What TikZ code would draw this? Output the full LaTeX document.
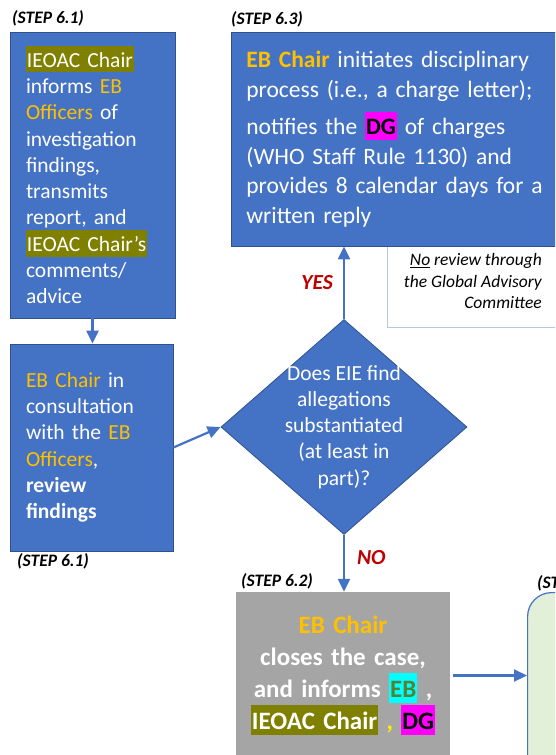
\documentclass[tikz,border=0pt]{standalone}
\usepackage{fontspec}
\setmainfont{Carlito}
\usetikzlibrary{arrows.meta,shapes.geometric,positioning}

\definecolor{flowblue}{HTML}{4472C4}
\definecolor{flowedge}{HTML}{2F528F}
\definecolor{gold}{HTML}{FFC000}
\definecolor{hlolive}{HTML}{808000}
\definecolor{hlpink}{HTML}{FF00FF}
\definecolor{hlcyan}{HTML}{00FFFF}
\definecolor{ebgreen}{HTML}{548235}
\definecolor{closegray}{HTML}{A5A5A5}
\definecolor{nextgreen}{HTML}{E2F0D9}
\definecolor{notebord}{HTML}{B4C7E7}
\definecolor{answerred}{HTML}{C00000}

% highlighted run of text
\newcommand{\hilite}[2]{{\setlength{\fboxsep}{0pt}\colorbox{#1}{\kern1pt\rule[-.25em]{0pt}{1.23em}#2\kern1pt}}}

\tikzset{
 stepbox/.style={draw=flowedge, fill=flowblue, line width=0.8pt, text=white, align=left, inner xsep=16pt,
   font=\fontsize{21.5}{26.3}\selectfont},
 decision/.style={diamond, draw=flowedge, fill=flowblue, line width=0.8pt, minimum width=246pt, minimum height=215pt, inner sep=0pt},
 qtext/.style={text=white, align=center, font=\fontsize{21.5}{26.2}\selectfont},
 closebox/.style={fill=closegray, text=white, align=center, font=\fontsize{25}{32}\selectfont\bfseries},
 nextbox/.style={draw=flowblue, fill=nextgreen, line width=1.2pt, rounded corners=24pt, minimum width=100pt, minimum height=200pt},
 notebox/.style={draw=notebord, fill=white, line width=0.8pt, minimum width=220pt, minimum height=81pt},
 notetext/.style={align=right, inner sep=0pt, font=\fontsize{17.5}{21.8}\selectfont\itshape},
 steptag/.style={inner sep=0pt, font=\fontsize{17.5}{20}\selectfont\bfseries\itshape},
 answer/.style={inner sep=0pt, text=answerred, font=\fontsize{21.5}{24}\selectfont\bfseries\itshape},
 flowarrow/.style={draw=flowblue, line width=2.2pt, -{Triangle[length=13pt,width=12pt]}}
}

\begin{document}
\begin{tikzpicture}[x=1pt,y=-1pt]
\useasboundingbox[fill=white] (0,0) rectangle (555,755);
\clip (0,0) rectangle (555,755);

% left column
\node[steptag, anchor=west] (tagA) at (12,18) {(STEP 6.1)};
\node[stepbox, minimum width=165pt, minimum height=286pt, text width=133pt] (inform) at (92.5,175) {%
\hilite{hlolive}{IEOAC Chair}\\
informs \textcolor{gold}{EB}\\
\textcolor{gold}{Officers} of\\
investigation\\
findings,\\
transmits\\
report, and\\
\hilite{hlolive}{IEOAC Chair’s}\\
comments/\\
advice};
\node[stepbox, minimum width=163pt, minimum height=207pt, text width=131pt] (review) at (91.5,447.5) {%
\textcolor{gold}{EB Chair} in\\
consultation\\
with the \textcolor{gold}{EB}\\
\textcolor{gold}{Officers},\\
\textbf{review}\\
\textbf{findings}};
\node[steptag, anchor=west] (tagB) at (17,561) {(STEP 6.1)};

% question
\node[decision, label={[qtext]center:{Does EIE find\\allegations\\substantiated\\(at least in\\part)?}}] (found) at (344,427) {};

% yes branch
\node[notebox, anchor=north west,
  label={[notetext, anchor=north east, xshift=155pt, yshift=-7pt]north west:{\underline{No} review through\\the Global Advisory\\Committee}}] (noreview) at (387,246) {};
\node[steptag, anchor=west] (tagC) at (231,19) {(STEP 6.3)};
\node[stepbox, anchor=west, minimum width=350pt, minimum height=214pt, text width=320pt, inner xsep=15pt,
  font=\fontsize{23.5}{29.5}\selectfont] (charge) at (231,139) {%
\textcolor{gold}{\textbf{EB Chair}} initiates disciplinary\\
process (i.e., a charge letter);\\[8pt]
notifies the \hilite{hlpink}{\textcolor{black}{\textbf{DG}}} of charges\\
(WHO Staff Rule 1130) and\\
provides 8 calendar days for a\\
written reply};

% no branch
\node[steptag, anchor=west] (tagD) at (241,581) {(STEP 6.2)};
\node[closebox, minimum width=214pt, minimum height=167pt, text width=204pt] (close) at (343,675.5) {%
\textcolor{gold}{EB Chair}\\
closes the case,\\
and informs \hilite{hlcyan}{\textcolor{ebgreen}{EB}} ,\\
\hilite{hlolive}{IEOAC Chair} \textcolor{yellow}{,} \hilite{hlpink}{\textcolor{black}{DG}}};
\node[steptag, anchor=west] (tagE) at (537,583) {(ST};
\node[nextbox, anchor=north west] (next) at (527,592) {};

% connectors
\draw[flowarrow] (inform.south) -- (inform.south |- review.north);
\draw[flowarrow] (review.east) -- (found.west);
\draw[flowarrow] (found.north) -- (found.north |- charge.south) node[answer, midway, left=10pt] {YES};
\draw[flowarrow] (found.south) -- (found.south |- close.north) node[answer, pos=0.39, right=12pt] {NO};
\draw[flowarrow] ([xshift=3pt]close.east) -- (close.east -| next.west);

\end{tikzpicture}
\end{document}
